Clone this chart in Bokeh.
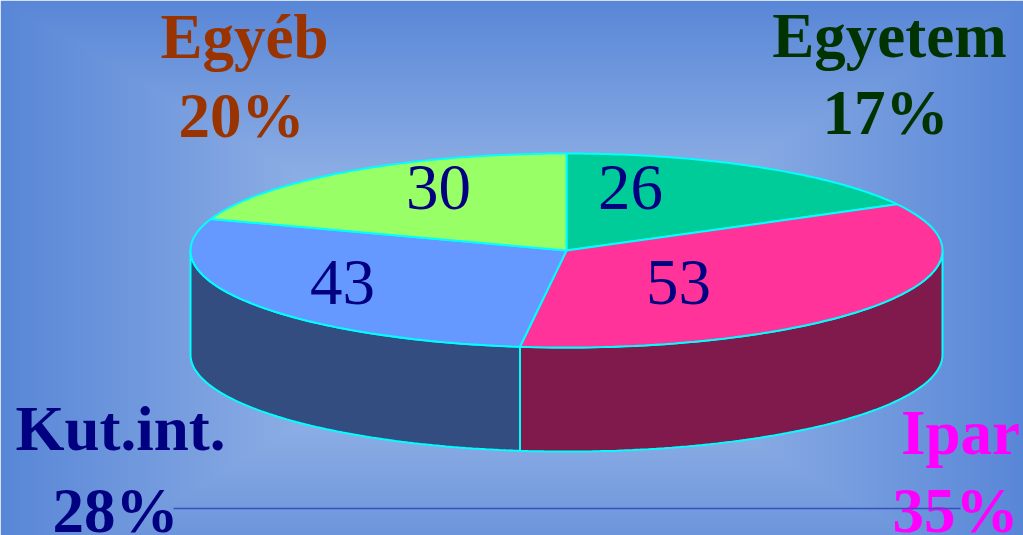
import numpy as np
from bokeh.plotting import figure
from bokeh.models import Range1d, ColumnDataSource
from bokeh.embed import file_html
from bokeh.resources import INLINE
from bokeh.core.properties import value

# ---- data ----
categories = ["Egyetem", "Ipar", "Kut.int.", "Egyéb"]
counts = [26, 53, 43, 30]
percent_labels = ["17%", "35%", "28%", "20%"]
top_colors = ["#00CC99", "#FF3399", "#6699FF", "#99FF66"]
side_colors = ["#00664D", "#801A4D", "#334D80", "#4D8033"]
label_colors = ["#003300", "#FF00FF", "#000080", "#993300"]

# ---- layout (screen pixels, y downward) ----
W, H = 1023, 535
CX, CY, RX, RY, DEPTH = 566, 250, 376, 97, 104
TEXT_SHIFT = 22
name_pos = [(889, 57), (960, 454), (120, 450), (244, 58)]
pct_pos = [(885, 134), (955, 532), (115, 532), (241, 137)]
num_pos = [(630, 209), (678, 304), (342, 304), (438, 209)]

def sy(y):
    return H - y

def ty(y):
    return H - (y - TEXT_SHIFT)

p = figure(width=W, height=H, x_range=Range1d(0, W), y_range=Range1d(0, H),
           output_backend="svg", toolbar_location=None, min_border=0)
p.axis.visible = False
p.grid.visible = False
p.outline_line_color = None

# background gradient (rectangular, from centre)
xs = np.arange(W)[None, :]
ys = np.arange(H)[:, None]
t = np.maximum(np.abs(xs - 512) / 560.0, np.abs(ys - 300) / 330.0)
t = np.clip(t, 0, 1)
light = np.array([0xB2, 0xCA, 0xEE], float)
dark = np.array([0x50, 0x80, 0xD5], float)
rgb = light[None, None, :] + (dark - light)[None, None, :] * t[:, :, None]
rgb = rgb.astype(np.uint32)
img = (255 << 24) | (rgb[:, :, 2] << 16) | (rgb[:, :, 1] << 8) | rgb[:, :, 0]
img = img[::-1].astype(np.uint32)
p.image_rgba(image=[img], x=0, y=0, dw=W, dh=H)

# pie geometry
vals = np.array(counts, float)
frac = vals / vals.sum()
ends = np.cumsum(frac) * 2 * np.pi
starts = ends - frac * 2 * np.pi

def arc(a, b, dy=0, n=80):
    th = np.linspace(a, b, n)
    return list(CX + RX * np.sin(th)), list(sy(CY - RY * np.cos(th) + dy))

# sides (front half only)
for i in range(len(counts)):
    a = max(starts[i], np.pi / 2)
    b = min(ends[i], 3 * np.pi / 2)
    if b <= a:
        continue
    tx, tyy = arc(a, b)
    bx, by = arc(a, b, DEPTH)
    p.patch(tx + bx[::-1], tyy + by[::-1], fill_color=side_colors[i],
            line_color="#00FFFF", line_width=2)

# top faces
for i in range(len(counts)):
    ax, ay = arc(starts[i], ends[i])
    p.patch([CX] + ax, [sy(CY)] + ay, fill_color=top_colors[i],
            line_color="#00FFFF", line_width=2)

# numbers on slices
num_src = ColumnDataSource(dict(x=[q[0] for q in num_pos], y=[ty(q[1]) for q in num_pos],
                                t=[str(c) for c in counts]))
p.text(x="x", y="y", text="t", source=num_src, text_font=value("Liberation Serif"),
       text_font_size="65px", text_align="center", text_baseline="alphabetic",
       text_color="#000080")

# category names and percentages
name_src = ColumnDataSource(dict(x=[q[0] for q in name_pos], y=[ty(q[1]) for q in name_pos],
                                 t=categories, c=label_colors))
p.text(x="x", y="y", text="t", source=name_src, text_font=value("Liberation Serif"),
       text_font_size="63px", text_font_style="bold", text_align="center",
       text_baseline="alphabetic", text_color="c")
pct_src = ColumnDataSource(dict(x=[q[0] for q in pct_pos], y=[ty(q[1]) for q in pct_pos],
                                t=percent_labels, c=label_colors))
p.text(x="x", y="y", text="t", source=pct_src, text_font=value("Liberation Serif"),
       text_font_size="63px", text_font_style="bold", text_align="center",
       text_baseline="alphabetic", text_color="c")

# thin rule near the bottom
p.line([173, 960], [sy(508), sy(508)], line_color="#3A4FBF", line_width=1.5)

html = file_html(p, INLINE)
if "<body>" in html:
    html = html.replace("<body>", '<body style="margin:0;overflow:hidden">', 1)
else:
    html = html.replace("</head>", "<style>body{margin:0;overflow:hidden}</style></head>", 1)
open("out.html", "w").write(html)
